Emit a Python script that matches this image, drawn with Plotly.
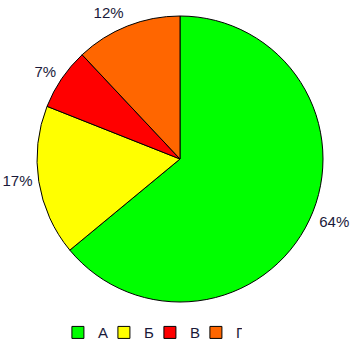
import plotly.graph_objects as go

labels = ["А", "Б", "В", "Г"]
values = [64, 17, 7, 12]
colors = ["#00FF00", "#FFFF00", "#FF0000", "#FF6600"]

W, H = 351, 344
cx, cy, r = 180, 159, 143
lcx, lcy, r_lab = 182, 157, 147

fig = go.Figure()
# main pie (slices)
fig.add_trace(go.Pie(
    labels=labels, values=values, sort=False, direction="clockwise", rotation=0,
    marker=dict(colors=colors, line=dict(color="black", width=1)),
    textinfo="none",
    domain=dict(x=[(cx - r) / W, (cx + r) / W], y=[1 - (cy + r) / H, 1 - (cy - r) / H]),
    hoverinfo="skip",
))
# label carrier pie (transparent, slightly larger) for outside percent labels
fig.add_trace(go.Pie(
    labels=labels, values=values, sort=False, direction="clockwise", rotation=0,
    marker=dict(colors=["rgba(0,0,0,0)"] * 4, line=dict(width=0)),
    texttemplate="%{percent:.0%}",
    textposition="outside",
    textfont=dict(family="Liberation Sans", size=15, color="#1a1a3a"),
    domain=dict(x=[(lcx - r_lab) / W, (lcx + r_lab) / W], y=[1 - (lcy + r_lab) / H, 1 - (lcy - r_lab) / H]),
    hoverinfo="skip",
    showlegend=False,
))

fig.update_layout(
    width=W, height=H,
    margin=dict(l=0, r=0, t=0, b=0, autoexpand=False),
    paper_bgcolor="white",
    plot_bgcolor="white",
    showlegend=True,
    legend=dict(
        orientation="h",
        x=0.165, xanchor="left",
        y=-0.015, yanchor="bottom",
        font=dict(family="Liberation Sans", size=15, color="#1a1a3a"),
        itemwidth=30,
        entrywidth=1,
        traceorder="normal",
    ),
)

fig.write_html("out.html")
